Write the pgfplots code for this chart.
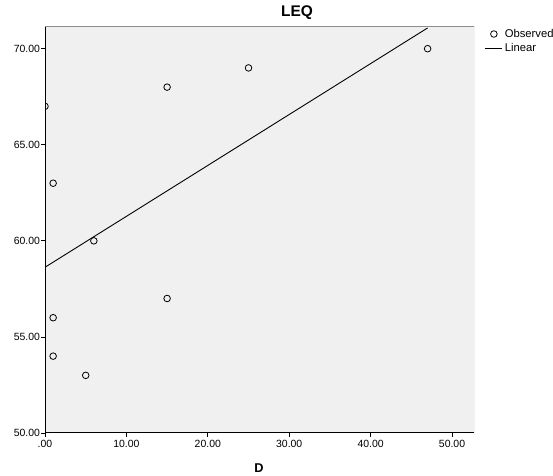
\documentclass[border=0pt]{standalone}
\usepackage{pgfplots}
\pgfplotsset{compat=1.18}
\usepackage{fontspec}
\setmainfont{Liberation Sans}
\definecolor{plotbg}{HTML}{F0F0F0}
\definecolor{frameg}{HTML}{8C8C8C}
\begin{document}
\begin{tikzpicture}[x=1bp,y=1bp]
\useasboundingbox (0,0) rectangle (553,476);
\begin{axis}[
  at={(45bp,43bp)}, anchor=south west,
  scale only axis, width=429bp, height=406bp,
  xmin=0, xmax=52.7, ymin=50, ymax=71.13,
  axis background/.style={fill=plotbg},
  axis line style={draw=none},
  xtick={0,10,20,30,40,50},
  xticklabels={.00,10.00,20.00,30.00,40.00,50.00},
  ytick={50,55,60,65,70},
  yticklabels={50.00,55.00,60.00,65.00,70.00},
  tick align=outside, tick pos=left,
  major tick length=4bp,
  tick style={black, line width=0.8bp},
  ticklabel style={font=\fontsize{10.5}{12}\selectfont},
  yticklabel style={xshift=2.5bp},
  clip=true, clip marker paths=true,
  legend style={at={(1.025,1.0)}, anchor=north west, draw=none, fill=none,
    font=\fontsize{11.3}{13}\selectfont, row sep=0.5bp, inner sep=0pt},
  legend cell align=left,
]
\addplot[only marks, mark=o, mark size=3.3bp, mark options={line width=0.8bp, black}] coordinates {
(0,67) (1,63) (1,56) (1,54) (5,53) (6,60) (15,68) (15,57) (25,69) (47,70)
};
\addlegendentry{Observed}
\addplot[black, line width=0.9bp] coordinates {(0,58.625) (47,71.08)};
\addlegendentry{Linear}
\draw[frameg, line width=1bp] (axis cs:0,71.13) -- (axis cs:52.7,71.13) -- (axis cs:52.7,50);
\draw[black, line width=1bp] (axis cs:0,71.13) -- (axis cs:0,50) -- (axis cs:52.7,50);
\end{axis}
\node[font=\fontsize{15.5}{18}\selectfont\bfseries] at (297,463) {LEQ};
\node[font=\fontsize{12.8}{15}\selectfont\bfseries] at (259,8) {D};
\end{tikzpicture}
\end{document}
